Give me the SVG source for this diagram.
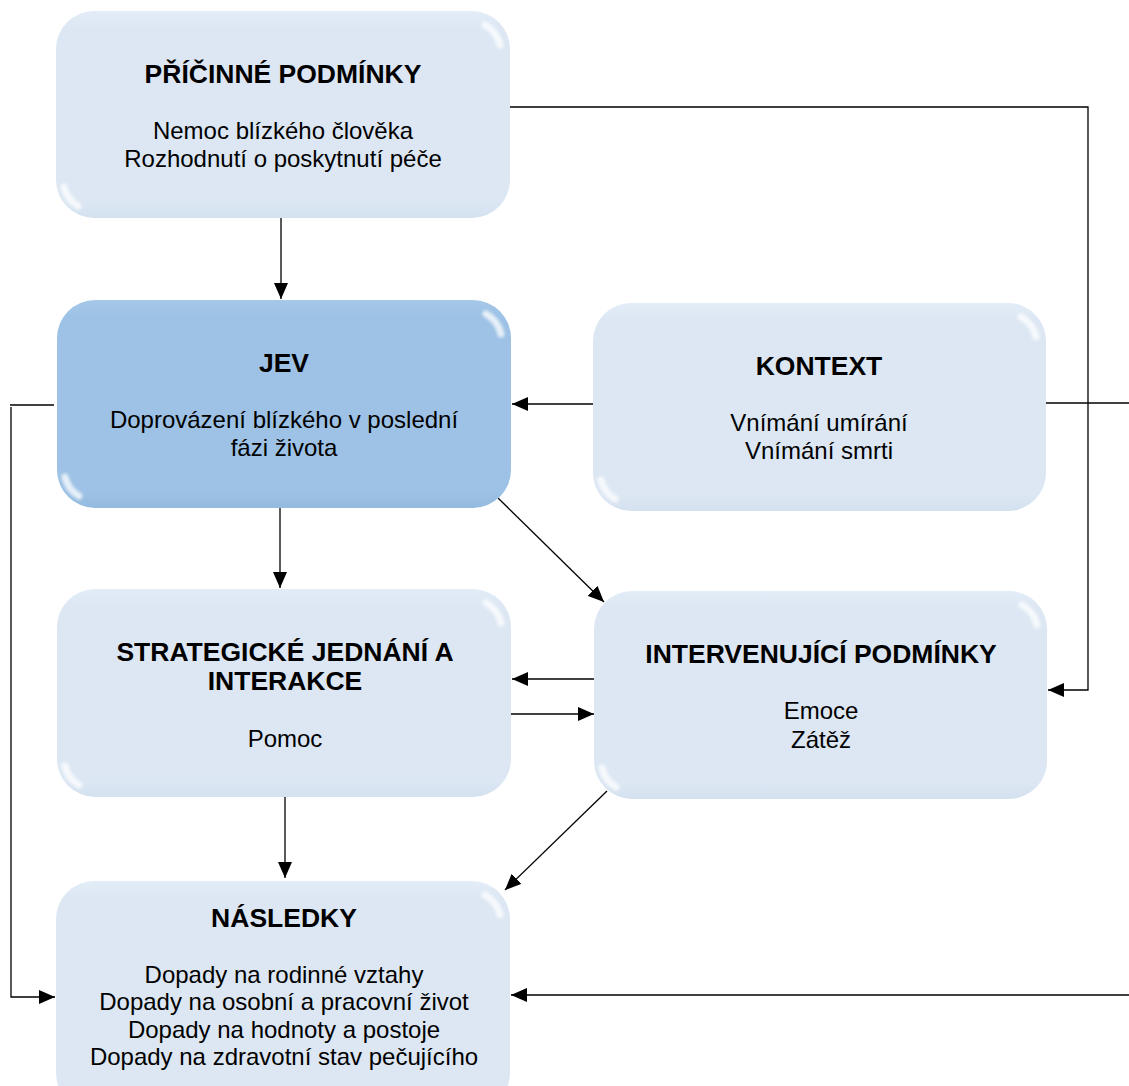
<svg xmlns="http://www.w3.org/2000/svg" width="1129" height="1086" viewBox="0 0 1129 1086">
<defs>
<linearGradient id="gl" x1="0" y1="0" x2="0" y2="1">
<stop offset="0" stop-color="#e3edf8"/><stop offset="0.08" stop-color="#dce7f3"/><stop offset="0.92" stop-color="#dce7f3"/><stop offset="1" stop-color="#d4e1ef"/>
</linearGradient>
<linearGradient id="gd" x1="0" y1="0" x2="0" y2="1">
<stop offset="0" stop-color="#a6c8e9"/><stop offset="0.08" stop-color="#9dc2e5"/><stop offset="0.92" stop-color="#9dc2e5"/><stop offset="1" stop-color="#94badf"/>
</linearGradient>
<filter id="blur" x="-50%" y="-50%" width="200%" height="200%"><feGaussianBlur stdDeviation="1.5"/></filter>
<marker id="ah" viewBox="0 0 16 14" refX="16" refY="7" markerWidth="16" markerHeight="14" markerUnits="userSpaceOnUse" orient="auto">
<path d="M0,0 L16,7 L0,14 Z" fill="#000"/>
</marker>
</defs>
<style>
.box{fill:url(#gl);}
.dark{fill:url(#gd);}
.hl{fill:none;stroke:#ffffff;stroke-width:7;stroke-linecap:round;opacity:0.75;filter:url(#blur);}
.t{font-family:"Liberation Sans",Arial,sans-serif;font-size:26.5px;font-weight:bold;fill:#000;text-anchor:middle;}
.b{font-family:"Liberation Sans",Arial,sans-serif;font-size:24px;fill:#000;text-anchor:middle;}
.c{fill:none;stroke:#000;stroke-width:1.3;}
</style>
<rect width="1129" height="1086" fill="#fff"/>
<g id="connectors">
<polyline class="c" points="510,107 1088,107 1088,690 1048,690" marker-end="url(#ah)"/>
<line class="c" x1="281" y1="218" x2="281" y2="299" marker-end="url(#ah)"/>
<line class="c" x1="593" y1="404" x2="512" y2="404" marker-end="url(#ah)"/>
<line class="c" x1="1046" y1="403" x2="1129" y2="403"/>
<line class="c" x1="54" y1="405" x2="10" y2="405"/>
<polyline class="c" points="11,407 11,997 55,997" marker-end="url(#ah)"/>
<line class="c" x1="280" y1="508" x2="280" y2="588" marker-end="url(#ah)"/>
<line class="c" x1="498" y1="498" x2="604" y2="602" marker-end="url(#ah)"/>
<line class="c" x1="594" y1="679" x2="512" y2="679" marker-end="url(#ah)"/>
<line class="c" x1="511" y1="714" x2="594" y2="714" marker-end="url(#ah)"/>
<line class="c" x1="285" y1="797" x2="285" y2="878" marker-end="url(#ah)"/>
<line class="c" x1="607" y1="791" x2="505" y2="890" marker-end="url(#ah)"/>
<line class="c" x1="1129" y1="995" x2="511" y2="995" marker-end="url(#ah)"/>
</g>
<g id="n-pricinne">
<rect class="box" x="56" y="11" width="454" height="207" rx="38"/>
<path class="hl" d="M485,25 A30,30 0 0 1 500,45"/>
<path class="hl" d="M64,187 A30,30 0 0 0 78,206"/>
<text class="t" x="283" y="83">PŘÍČINNÉ PODMÍNKY</text>
<text class="b" x="283" y="139">Nemoc blízkého člověka</text>
<text class="b" x="283" y="167">Rozhodnutí o poskytnutí péče</text>
</g>
<g id="n-jev">
<rect class="dark" x="57" y="300" width="454" height="208" rx="38"/>
<path class="hl" d="M486,314 A30,30 0 0 1 501,334"/>
<path class="hl" d="M65,477 A30,30 0 0 0 79,496"/>
<text class="t" x="284" y="372">JEV</text>
<text class="b" x="284" y="428">Doprovázení blízkého v poslední</text>
<text class="b" x="284" y="456">fázi života</text>
</g>
<g id="n-kontext">
<rect class="box" x="593" y="303" width="453" height="208" rx="38"/>
<path class="hl" d="M1021,317 A30,30 0 0 1 1036,337"/>
<path class="hl" d="M601,480 A30,30 0 0 0 615,499"/>
<text class="t" x="819" y="375">KONTEXT</text>
<text class="b" x="819" y="431">Vnímání umírání</text>
<text class="b" x="819" y="459">Vnímání smrti</text>
</g>
<g id="n-strategicke">
<rect class="box" x="57" y="589" width="454" height="208" rx="38"/>
<path class="hl" d="M486,603 A30,30 0 0 1 501,623"/>
<path class="hl" d="M65,766 A30,30 0 0 0 79,785"/>
<text class="t" x="285" y="661">STRATEGICKÉ JEDNÁNÍ A</text>
<text class="t" x="285" y="690">INTERAKCE</text>
<text class="b" x="285" y="747">Pomoc</text>
</g>
<g id="n-intervenujici">
<rect class="box" x="594" y="591" width="453" height="208" rx="38"/>
<path class="hl" d="M1022,605 A30,30 0 0 1 1037,625"/>
<path class="hl" d="M602,768 A30,30 0 0 0 616,787"/>
<text class="t" x="821" y="663">INTERVENUJÍCÍ PODMÍNKY</text>
<text class="b" x="821" y="719">Emoce</text>
<text class="b" x="821" y="748">Zátěž</text>
</g>
<g id="n-nasledky">
<rect class="box" x="56" y="881" width="454" height="230" rx="38"/>
<path class="hl" d="M485,895 A30,30 0 0 1 500,915"/>
<text class="t" x="284" y="927">NÁSLEDKY</text>
<text class="b" x="284" y="983">Dopady na rodinné vztahy</text>
<text class="b" x="284" y="1010">Dopady na osobní a pracovní život</text>
<text class="b" x="284" y="1038">Dopady na hodnoty a postoje</text>
<text class="b" x="284" y="1065">Dopady na zdravotní stav pečujícího</text>
</g>
</svg>
